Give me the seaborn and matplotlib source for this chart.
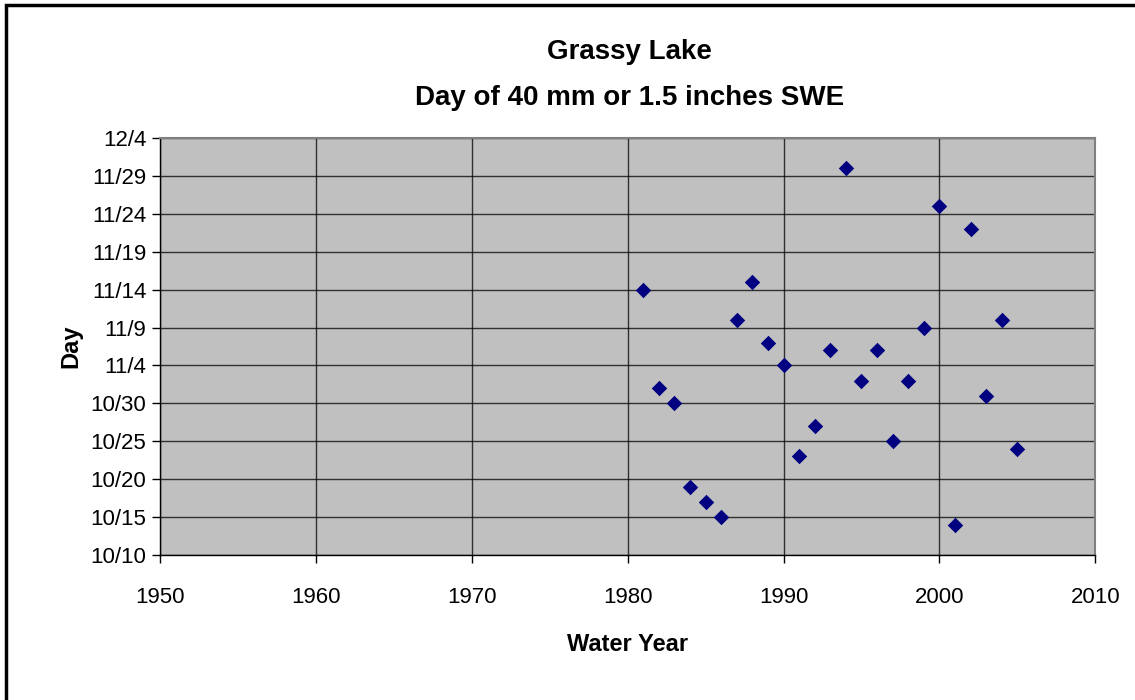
import matplotlib
matplotlib.use("Agg")
import matplotlib.pyplot as plt
import matplotlib.dates as mdates
import matplotlib.patches as mpatches
import seaborn as sns
import pandas as pd

# ---- data ----
years = [1981, 1982, 1983, 1984, 1985, 1986, 1987, 1988, 1989, 1990,
         1991, 1992, 1993, 1994, 1995, 1996, 1997, 1998, 1999, 2000,
         2001, 2002, 2003, 2004, 2005]
days = ["11/14", "11/1", "10/30", "10/19", "10/17", "10/15", "11/10", "11/15", "11/7", "11/4",
        "10/23", "10/27", "11/6", "11/30", "11/2", "11/6", "10/25", "11/2", "11/9", "11/25",
        "10/14", "11/22", "10/31", "11/10", "10/24"]
x_ticks = [1950, 1960, 1970, 1980, 1990, 2000, 2010]
y_tick_start = "10/10"
y_tick_end = "12/4"

title = "Grassy Lake\nDay of 40 mm or 1.5 inches SWE"
x_label = "Water Year"
y_label = "Day"

df = pd.DataFrame({
    "year": years,
    "day": pd.to_datetime(["2000/" + d for d in days], format="%Y/%m/%d"),
})

sns.set_theme(style="white")
plt.rcParams["font.family"] = ["Liberation Sans", "DejaVu Sans"]
plt.rcParams["text.color"] = "black"
plt.rcParams["axes.labelcolor"] = "black"

fig = plt.figure(figsize=(11.35, 7.0), dpi=100)
ax = fig.add_axes([0.141, 0.207, 0.824, 0.596])
ax.set_facecolor("#C0C0C0")

sns.scatterplot(data=df, x="year", y="day", ax=ax, marker="D", s=62,
                color="#000080", edgecolor="#000080", linewidth=0, zorder=3)

ax.set_xlim(1950, 2010)
ax.set_xticks(x_ticks)
yt = pd.date_range("2000/" + y_tick_start, "2000/" + y_tick_end, freq="5D")
ax.set_ylim(yt[0], yt[-1])
ax.set_yticks(yt)
ax.yaxis.set_major_formatter(mdates.DateFormatter("%-m/%-d"))

ax.grid(True, color="#000000", linewidth=1.0, alpha=0.75)
ax.set_axisbelow(True)

for side in ["top", "right"]:
    ax.spines[side].set_color("#808080")
    ax.spines[side].set_linewidth(1.5)
for side in ["left", "bottom"]:
    ax.spines[side].set_color("#000000")
    ax.spines[side].set_linewidth(1.0)

ax.tick_params(axis="both", which="major", direction="out", length=6, width=1,
               color="black", labelsize=16, labelcolor="black", bottom=True, left=True)
ax.tick_params(axis="x", pad=17)
ax.tick_params(axis="y", pad=4)

ax.set_xlabel(x_label, fontsize=17, fontweight="bold", labelpad=18)
ax.set_ylabel(y_label, fontsize=17, fontweight="bold", labelpad=6)

fig.text(0.555, 0.893, title, ha="center", va="center", fontsize=20,
         fontweight="bold", linespacing=2.0)

border = mpatches.Rectangle((0.005, -0.02), 1.05, 1.013, transform=fig.transFigure,
                            fill=False, edgecolor="black", linewidth=2.5)
fig.patches.append(border)

fig.savefig("out.png", dpi=100, facecolor="white")
